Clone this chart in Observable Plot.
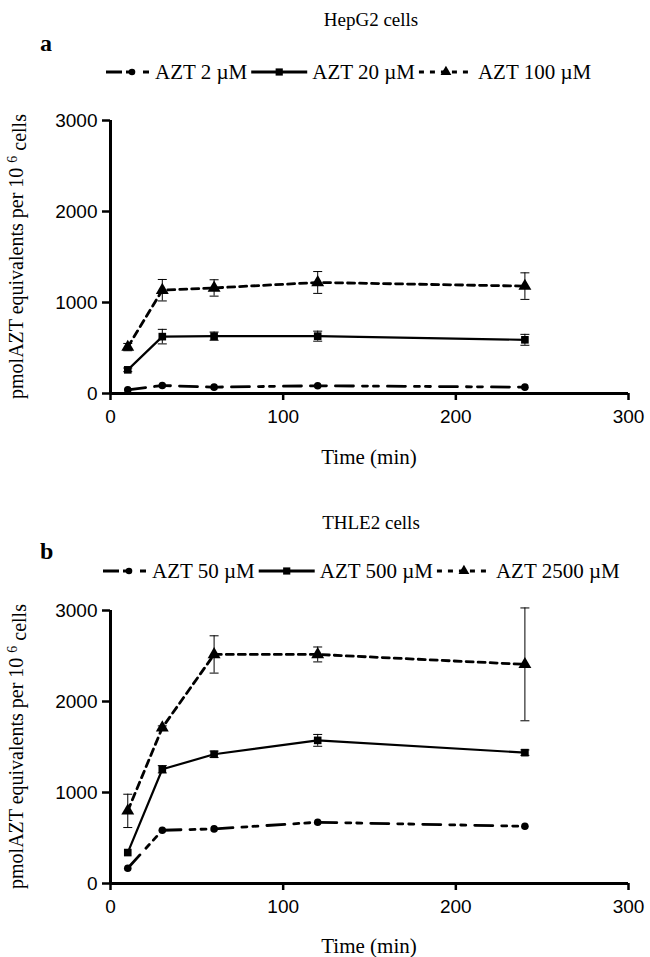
<!DOCTYPE html>
<html><head><meta charset="utf-8">
<script src="https://cdn.jsdelivr.net/npm/d3@7"></script>
<script src="https://cdn.jsdelivr.net/npm/@observablehq/plot@0.6"></script>
<style>
body{margin:0;background:#fff;}
#root{position:relative;width:650px;height:957px;overflow:hidden;font-family:"Liberation Serif",serif;color:#000;}
.title{position:absolute;left:0;width:650px;text-align:center;font-size:19px;line-height:1;font-family:"Liberation Serif",serif;}
.letter{position:absolute;font-weight:bold;font-size:24px;line-height:1;font-family:"Liberation Serif",serif;}
.abs{position:absolute;left:0;}
</style></head><body><div id="root"></div>
<script>
const times = [10, 30, 60, 120, 240];
const panelTitles = ["HepG2 cells", "THLE2 cells"];
const panelLetters = ["a", "b"];
const seriesNamesA = ["AZT 2 µM", "AZT 20 µM", "AZT 100 µM"];
const seriesNamesB = ["AZT 50 µM", "AZT 500 µM", "AZT 2500 µM"];
const a_low = [40, 88, 70, 85, 70];
const a_mid = [260, 625, 630, 630, 590];
const a_high = [510, 1135, 1160, 1220, 1180];
const a_low_err = [0, 0, 0, 0, 0];
const a_mid_err = [20, 80, 45, 55, 60];
const a_high_err = [40, 118, 90, 120, 146];
const b_low = [168, 585, 600, 673, 629];
const b_mid = [340, 1255, 1420, 1573, 1438];
const b_high = [798, 1712, 2517, 2517, 2408];
const b_low_err = [0, 0, 0, 0, 0];
const b_mid_err = [0, 40, 35, 65, 30];
const b_high_err = [183, 20, 205, 82, 620];
const yTicks = [0, 1000, 2000, 3000];
const xTicks = [0, 100, 200, 300];
const xLabel = "Time (min)";
const yLabelParts = ["pmolAZT equivalents per 10 ", "6", " cells"];

// styles (not data)
const dashes = ["18,9,5,6,5,9", null, "7,5"];
const legendDashes = ["16,4,8,9,6", null, "5,6"];
const symbols = ["circle", "square", "triangle"];
const radii = [3.8, 4.3, 4.8];
const legendR = [3.3, 3.6, 4.0];
const widths = [2.8, 2.2, 2.8];
const sampleW = [44, 56, 54];

const root = document.getElementById("root");
const capSymbol = {draw(ctx, size) { const r = Math.sqrt(size / Math.PI); ctx.moveTo(-r, 0); ctx.lineTo(r, 0); }};
const d3sym = {circle: d3.symbolCircle, square: d3.symbolSquare, triangle: d3.symbolTriangle};
const symArea = {circle: r => Math.PI * r * r, square: r => 4 * r * r, triangle: r => Math.PI * r * r};

function panel(idx, names, vals, errs, pos) {
  const t = document.createElement("div");
  t.className = "title"; t.textContent = panelTitles[idx];
  t.style.top = (pos.title - 10) + "px"; t.style.left = "46px";
  root.appendChild(t);
  const l = document.createElement("div");
  l.className = "letter"; l.textContent = panelLetters[idx];
  l.style.top = (pos.letter - 13) + "px"; l.style.left = "40px";
  root.appendChild(l);

  // legend
  const lsvg = d3.select(root).append("svg").attr("class", "abs")
    .attr("width", 650).attr("height", 30).style("top", (pos.legend - 15) + "px");
  let x = pos.legendX;
  names.forEach((name, i) => {
    const g = lsvg.append("g");
    const w = sampleW[i];
    g.append("line").attr("x1", x).attr("x2", x + w).attr("y1", 15).attr("y2", 15)
      .attr("stroke", "black").attr("stroke-width", 3)
      .attr("stroke-dasharray", legendDashes[i]);
    g.append("path").attr("d", d3.symbol(d3sym[symbols[i]], symArea[symbols[i]](legendR[i]))())
      .attr("transform", `translate(${x + (i === 0 ? 26 : w / 2)},15)`).attr("fill", "black");
    const tx = g.append("text").attr("x", x + w + 5).attr("y", 15).attr("dy", "0.35em")
      .style("font-family", "'Liberation Serif', serif").style("font-size", "21px").text(name);
    x = x + w + 5 + tx.node().getComputedTextLength() + 4;
  });

  const data = [];
  names.forEach((name, s) => times.forEach((t, j) => data.push({s, t, v: vals[s][j], e: errs[s][j]})));
  const marks = [];
  const errData = data.filter(d => d.e > 0);
  marks.push(Plot.ruleX(errData, {x: "t", y1: d => d.v - d.e, y2: d => d.v + d.e, stroke: "black", strokeWidth: 1}));
  marks.push(Plot.dot(errData, {x: "t", y: d => d.v + d.e, symbol: capSymbol, r: 4.5, stroke: "black", strokeWidth: 1}));
  marks.push(Plot.dot(errData, {x: "t", y: d => d.v - d.e, symbol: capSymbol, r: 4.5, stroke: "black", strokeWidth: 1}));
  names.forEach((name, s) => {
    const sd = data.filter(d => d.s === s);
    marks.push(Plot.line(sd, {x: "t", y: "v", stroke: "black", strokeWidth: widths[s], strokeDasharray: dashes[s]}));
    marks.push(Plot.dot(sd, {x: "t", y: "v", symbol: symbols[s], r: radii[s], fill: "black", stroke: null}));
  });
  marks.push(Plot.axisY({ticks: yTicks, tickFormat: d3.format("d"), tickSize: 8, strokeWidth: 2.5, tickPadding: 5, label: null, fontSize: 19}));
  marks.push(Plot.axisX({ticks: xTicks, tickFormat: d3.format("d"), tickSize: 7, strokeWidth: 2.5, tickPadding: 9, label: null, fontSize: 19}));
  marks.push(Plot.ruleX([0], {stroke: "black", strokeWidth: 3}));
  marks.push(Plot.ruleY([0], {stroke: "black", strokeWidth: 3}));

  const mt = 25, mb = 75;
  const plotH = pos.zero - pos.three;
  const svgTop = pos.three - mt;
  const chart = Plot.plot({
    width: 650, height: mt + plotH + mb,
    marginLeft: 110, marginRight: 22, marginTop: mt, marginBottom: mb,
    x: {domain: [0, 300]},
    y: {domain: [0, 3000]},
    style: {fontFamily: "'Liberation Sans', Arial, sans-serif", fontSize: "19px", background: "transparent", overflow: "visible"},
    marks
  });
  chart.classList.add("abs");
  chart.style.top = svgTop + "px";
  root.appendChild(chart);
  const svg = d3.select(chart);
  svg.append("text").attr("x", 110 + (650 - 22 - 110) / 2).attr("y", mt + plotH + (pos.timeY - pos.zero)).attr("dy", "0.35em")
    .attr("text-anchor", "middle").style("font-family", "'Liberation Serif', serif").style("font-size", "21px").text(xLabel);
  const yl = svg.append("text").attr("transform", `translate(23,${mt + plotH / 2}) rotate(-90)`)
    .attr("text-anchor", "middle").style("font-family", "'Liberation Serif', serif").style("font-size", "20px");
  yl.append("tspan").text(yLabelParts[0]);
  yl.append("tspan").attr("dy", "-0.45em").style("font-size", "14px").text(yLabelParts[1]);
  yl.append("tspan").attr("dy", "0.45em").text(yLabelParts[2]);
}

panel(0, seriesNamesA, [a_low, a_mid, a_high], [a_low_err, a_mid_err, a_high_err],
  {title: 20, letter: 44, legend: 72, legendX: 106, three: 120, zero: 393, timeY: 457});
panel(1, seriesNamesB, [b_low, b_mid, b_high], [b_low_err, b_mid_err, b_high_err],
  {title: 523, letter: 552, legend: 571, legendX: 103, three: 610, zero: 883, timeY: 946});
</script></body></html>
